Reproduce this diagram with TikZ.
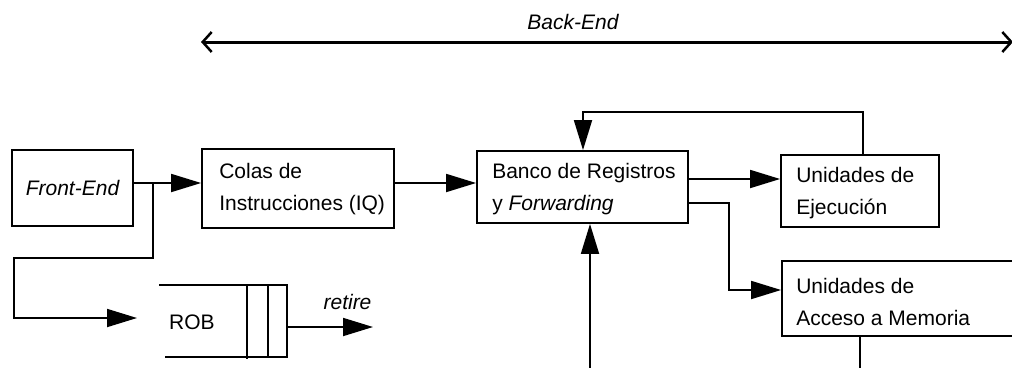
\documentclass[tikz,border=0pt]{standalone}
\usepackage{fontspec}
\setmainfont{Liberation Sans}
\usetikzlibrary{arrows.meta}
\begin{document}
\begin{tikzpicture}[x=1pt,y=-1pt,
  txt/.style={font=\fontsize{21}{32}\selectfont, inner sep=0pt},
  itxt/.style={font=\fontsize{21}{32}\selectfont\itshape, inner sep=0pt},
  blockbox/.style={draw, line width=1.8pt, inner sep=0pt},
  blocktext/.style={txt, anchor=west, align=left},
  wire/.style={line width=1.8pt},
  flow/.style={wire, -{Triangle[length=30pt,width=18pt]}},
  span/.style={line width=3pt, {Straight Barb[length=9pt,width=20pt,line width=2.5pt]}-{Straight Barb[length=9pt,width=20pt,line width=2.5pt]}}]
\clip (0,0) rectangle (1012,367);

% blocks
\node[blockbox, minimum width=121pt, minimum height=76pt] (fe) at (72.5,188) {};
\node[itxt] (fet) at (fe.center) {Front-End};
\node[blockbox, minimum width=192pt, minimum height=79pt] (cl) at (298,188.5) {};
\node[blocktext] (clt) at ([xshift=18pt,yshift=-1pt]cl.west) {Colas de\\Instrucciones (IQ)};
\node[blockbox, minimum width=211pt, minimum height=72pt] (bk) at (582.5,187) {};
\node[blocktext] (bkt) at ([xshift=16pt,yshift=-2pt]bk.west) {Banco de Registros\\y \textit{Forwarding}};
\node[blockbox, minimum width=158pt, minimum height=72pt] (ex) at (860,191) {};
\node[blocktext] (ext) at ([xshift=16pt,yshift=-2pt]ex.west) {Unidades de\\Ejecución};
\node[blockbox, minimum width=258pt, minimum height=75pt] (mm) at (911,298.5) {};
\node[blocktext] (mmt) at ([xshift=15pt,yshift=-3pt]mm.west) {Unidades de\\Acceso a Memoria};

% reorder buffer
\node[txt] (rob) at (192,322) {ROB};
\coordinate (robtl) at (159,285);
\coordinate (robbl) at (165,357);
\coordinate (robtr) at (287,285);
\coordinate (robbr) at (287,357);
\draw[wire] (robtl) -- (robtr) -- (robbr) -- (robbl);
\draw[wire] (247,285) -- (247,359);
\draw[wire] (268,285) -- (268,357);
\node[itxt] (ret) at (347.5,302) {retire};
\coordinate (retend) at (373,327);
\draw[flow] (robtr |- retend) -- (retend);

% back-end span
\coordinate (bl) at (201,42);
\coordinate (br) at (1013,42);
\draw[span] (bl) -- (br);
\node[itxt] (be) at (573,22) {Back-End};

% front-end to issue queues and ROB
\coordinate (r1) at (0,183);
\coordinate (split) at (153,183);
\draw[flow] (fe.east |- r1) -- (cl.west |- r1);
\draw[flow] (split) -- (153,258) -- (14,258) -- (14,318) -- (137,318);
\draw[flow] (cl.east |- r1) -- (bk.west |- r1);

% register file to functional units
\coordinate (r2) at (0,179);
\draw[flow] (bk.east |- r2) -- (ex.west |- r2);
\coordinate (r3) at (0,203);
\draw[flow] (bk.east |- r3) -- (729,203) -- (729,290) -- (mm.west |- 0,290);

% result feedback
\coordinate (fbx) at (863,112);
\draw[flow] (fbx |- ex.north) -- (fbx) -- (583,112) -- (583,0 |- bk.north);

% external input and memory output
\coordinate (inb) at (590,372);
\draw[flow] (inb) -- (inb |- bk.south);
\coordinate (outm) at (860,372);
\draw[wire] (outm |- mm.south) -- (outm);
\end{tikzpicture}
\end{document}
